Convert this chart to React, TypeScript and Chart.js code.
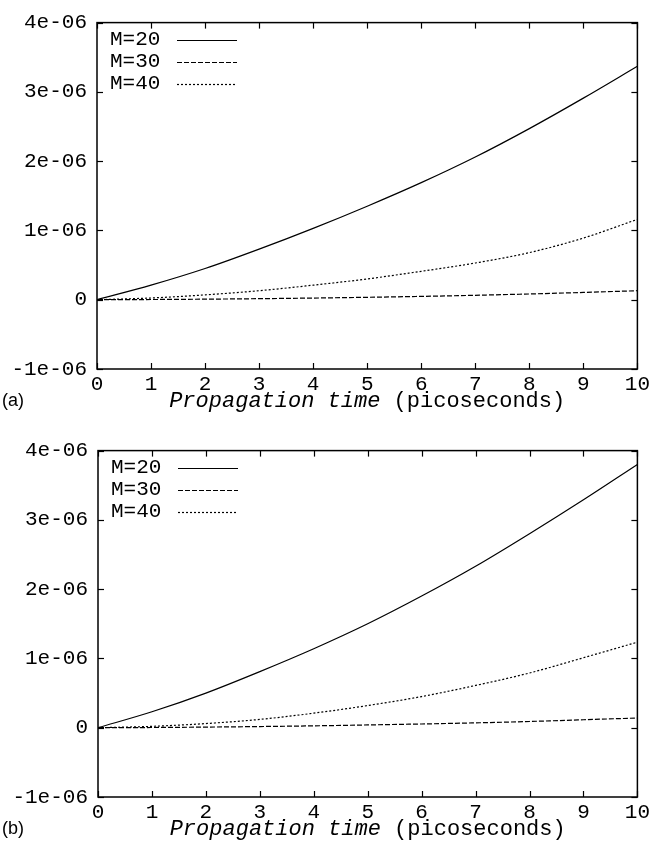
import React, { useEffect, useRef } from "react";
import { Chart, registerables } from "chart.js";

Chart.register(...registerables);

// ---- Data (values in the chart's own units) ----
const timeValues = [0, 1, 2, 3, 4, 5, 6, 7, 8, 9, 10];
const seriesLabels = ["M=20", "M=30", "M=40"];

// Panel (a)
const panelA_M20 = [0, 0.21e-6, 0.45e-6, 0.73e-6, 1.03e-6, 1.35e-6, 1.69e-6, 2.06e-6, 2.47e-6, 2.91e-6, 3.37e-6];
const panelA_M30 = [0, 0.003e-6, 0.008e-6, 0.015e-6, 0.024e-6, 0.035e-6, 0.048e-6, 0.064e-6, 0.083e-6, 0.105e-6, 0.13e-6];
const panelA_M40 = [0, 0.025e-6, 0.07e-6, 0.13e-6, 0.21e-6, 0.3e-6, 0.41e-6, 0.53e-6, 0.68e-6, 0.89e-6, 1.16e-6];

// Panel (b)
const panelB_M20 = [0, 0.23e-6, 0.5e-6, 0.81e-6, 1.14e-6, 1.5e-6, 1.9e-6, 2.33e-6, 2.8e-6, 3.29e-6, 3.8e-6];
const panelB_M30 = [0, 0.003e-6, 0.009e-6, 0.017e-6, 0.027e-6, 0.04e-6, 0.054e-6, 0.07e-6, 0.09e-6, 0.115e-6, 0.14e-6];
const panelB_M40 = [0, 0.02e-6, 0.06e-6, 0.12e-6, 0.21e-6, 0.32e-6, 0.45e-6, 0.61e-6, 0.79e-6, 1.01e-6, 1.235e-6];

const yTickValues = [-1e-6, 0, 1e-6, 2e-6, 3e-6, 4e-6];
const yTickLabels = ["-1e-06", "0", "1e-06", "2e-06", "3e-06", "4e-06"];
const xTickLabels = ["0", "1", "2", "3", "4", "5", "6", "7", "8", "9", "10"];
const xTitleItalic = "Propagation time";
const xTitleRest = " (picoseconds)";

const FONT = "'Liberation Mono', 'DejaVu Sans Mono', monospace";
const dashStyles: number[][] = [[], [5, 2], [2, 2]];

const gnuplotPlugin = {
  id: "gnuplotDecor",
  afterDatasetsDraw(chart: any, _args: any, opts: any) {
    const { ctx, chartArea: a, scales } = chart;
    ctx.save();
    // frame
    ctx.strokeStyle = "#000";
    ctx.lineWidth = 1.5;
    ctx.setLineDash([]);
    ctx.strokeRect(a.left, a.top, a.right - a.left, a.bottom - a.top);
    // inward tick marks on all four sides
    ctx.lineWidth = 1.2;
    const tl = 6;
    const line = (x1: number, y1: number, x2: number, y2: number) => {
      ctx.beginPath();
      ctx.moveTo(x1, y1);
      ctx.lineTo(x2, y2);
      ctx.stroke();
    };
    scales.x.ticks.forEach((t: any) => {
      const px = Math.round(scales.x.getPixelForValue(t.value)) + 0.5;
      line(px, a.bottom, px, a.bottom - tl);
      line(px, a.top, px, a.top + tl);
    });
    scales.y.ticks.forEach((t: any) => {
      const py = Math.round(scales.y.getPixelForValue(t.value)) + 0.5;
      line(a.left, py, a.left + tl, py);
      line(a.right, py, a.right - tl, py);
    });
    // legend (inside, top-left)
    ctx.fillStyle = "#000";
    ctx.font = `21px ${FONT}`;
    ctx.textAlign = "left";
    ctx.textBaseline = "middle";
    chart.data.datasets.forEach((ds: any, i: number) => {
      const y = a.top + 17 + 22 * i;
      ctx.fillText(ds.label, a.left + 13, y);
      ctx.lineWidth = 1.2;
      ctx.setLineDash(ds.borderDash || []);
      line(a.left + 80, Math.round(y) + 0.5, a.left + 140, Math.round(y) + 0.5);
      ctx.setLineDash([]);
    });
    // x-axis title, italic part + regular part
    const ty = a.bottom + 32;
    ctx.font = `italic 22px ${FONT}`;
    const w1 = ctx.measureText(xTitleItalic).width;
    ctx.font = `22px ${FONT}`;
    const w2 = ctx.measureText(xTitleRest).width;
    const cx = (a.left + a.right) / 2;
    const x0 = cx - (w1 + w2) / 2;
    ctx.font = `italic 22px ${FONT}`;
    ctx.fillText(xTitleItalic, x0, ty);
    ctx.font = `22px ${FONT}`;
    ctx.fillText(xTitleRest, x0 + w1, ty);
    // panel letter
    ctx.font = "18px 'Liberation Sans', Arial, sans-serif";
    ctx.fillText(opts.panelLabel, 2, ty);
    ctx.restore();
  },
};

type PanelProps = {
  top: number;
  yAxisWidth: number;
  panelLabel: string;
  series: number[][];
};

function Panel({ top, yAxisWidth, panelLabel, series }: PanelProps) {
  const ref = useRef<HTMLCanvasElement | null>(null);
  useEffect(() => {
    if (!ref.current) return;
    const chart = new Chart(ref.current, {
      type: "line",
      data: {
        datasets: series.map((vals, i) => ({
          label: seriesLabels[i],
          data: timeValues.map((t, j) => ({ x: t, y: vals[j] })),
          borderColor: "#000",
          borderWidth: 1.2,
          borderDash: dashStyles[i],
          pointRadius: 0,
          fill: false,
          cubicInterpolationMode: "monotone" as const,
        })),
      },
      options: {
        animation: false,
        responsive: false,
        events: [],
        layout: { padding: { top: 20, right: 15, left: 0, bottom: 0 } },
        plugins: {
          legend: { display: false },
          tooltip: { enabled: false },
          gnuplotDecor: { panelLabel },
        } as any,
        scales: {
          x: {
            type: "linear",
            min: 0,
            max: 10,
            grid: { display: false, drawTicks: false },
            border: { display: false },
            afterBuildTicks: (s: any) => {
              s.ticks = timeValues.map((v) => ({ value: v }));
            },
            afterFit: (s: any) => {
              s.height = 51;
            },
            ticks: {
              autoSkip: false,
              maxRotation: 0,
              padding: 3,
              color: "#000",
              font: { family: FONT, size: 21 },
              callback: (_v: any, i: number) => xTickLabels[i],
            },
          },
          y: {
            type: "linear",
            min: -1e-6,
            max: 4e-6,
            grid: { display: false, drawTicks: false },
            border: { display: false },
            afterBuildTicks: (s: any) => {
              s.ticks = yTickValues.map((v) => ({ value: v }));
            },
            afterFit: (s: any) => {
              s.width = yAxisWidth;
            },
            ticks: {
              autoSkip: false,
              padding: 10,
              color: "#000",
              font: { family: FONT, size: 21 },
              callback: (_v: any, i: number) => yTickLabels[i],
            },
          },
        },
      },
      plugins: [gnuplotPlugin],
    } as any);
    return () => chart.destroy();
  }, []);
  return (
    <canvas
      ref={ref}
      width={653}
      height={420}
      style={{ position: "absolute", left: 0, top, width: 653, height: 420 }}
    />
  );
}

export default function App() {
  return (
    <div style={{ position: "absolute", left: 0, top: 0, width: 653, height: 850, background: "#fff" }}>
      <Panel top={0} yAxisWidth={97} panelLabel="(a)" series={[panelA_M20, panelA_M30, panelA_M40]} />
      <Panel top={428} yAxisWidth={98} panelLabel="(b)" series={[panelB_M20, panelB_M30, panelB_M40]} />
    </div>
  );
}
